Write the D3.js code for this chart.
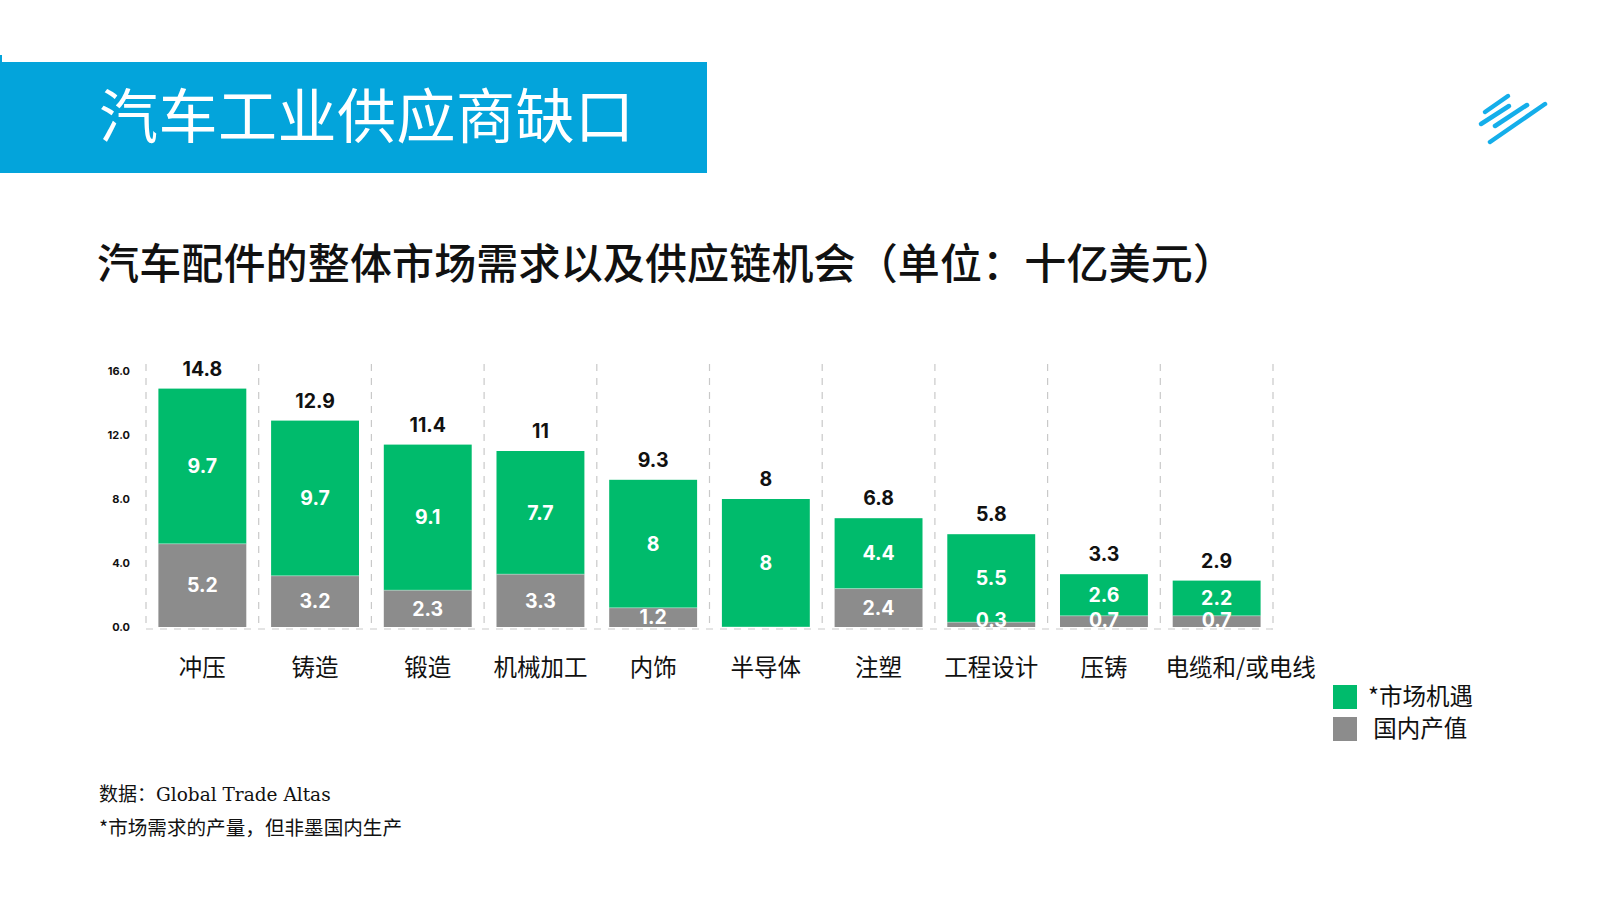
<!DOCTYPE html>
<html><head><meta charset="utf-8">
<script src="https://cdn.jsdelivr.net/npm/d3@7"></script>
<style>
html,body{margin:0;padding:0;background:#fff;}
svg{display:block;}
</style></head>
<body>
<svg id="c" width="1600" height="900"></svg>
<script>
const categories = ["冲压","铸造","锻造","机械加工","内饰","半导体","注塑","工程设计","压铸","电缆和/或电线"];
const domestic   = [5.2, 3.2, 2.3, 3.3, 1.2, 0, 2.4, 0.3, 0.7, 0.7];
const opportunity= [9.7, 9.7, 9.1, 7.7, 8, 8, 4.4, 5.5, 2.6, 2.2];
const totals     = [14.8, 12.9, 11.4, 11, 9.3, 8, 6.8, 5.8, 3.3, 2.9];
const yTicks     = [0, 4, 8, 12, 16];
const seriesNames= ["*市场机遇", " 国内产值"];
const colors = {blue:"#03A4DB", green:"#00BB6C", gray:"#8C8C8C", grid:"#C9C9C9", logo:"#14AEEA"};

const svg = d3.select("#c");
const cjk = "'Noto Sans CJK SC','Noto Sans CJK JP',sans-serif";
const num = "Inter,'Open Sans',Lato,sans-serif";

// header band
svg.append("rect").attr("x",0).attr("y",62).attr("width",707).attr("height",111).attr("fill",colors.blue);
svg.append("rect").attr("x",0).attr("y",55).attr("width",2).attr("height",8).attr("fill",colors.blue);
svg.append("text").attr("x",99).attr("y",138).attr("fill","#fff")
  .attr("font-family",cjk).attr("font-size",59).attr("font-weight",400)
  .attr("letter-spacing",0.5).text("汽车工业供应商缺口");

// logo strokes
const logo = [[1485,112,1508,96],[1481,124,1509,106],[1495,126,1527,105],[1490,142,1545,104]];
svg.append("g").selectAll("line").data(logo).join("line")
  .attr("x1",d=>d[0]).attr("y1",d=>d[1]).attr("x2",d=>d[2]).attr("y2",d=>d[3])
  .attr("stroke",colors.logo).attr("stroke-width",4.5).attr("stroke-linecap","round");

// subtitle
svg.append("text").attr("x",97).attr("y",279).attr("fill","#111")
  .attr("font-family",cjk).attr("font-size",42).attr("font-weight",500)
  .attr("letter-spacing",0.15)
  .text("汽车配件的整体市场需求以及供应链机会（单位：十亿美元）");

// scales
const x = d3.scaleBand().domain(categories).range([146,1273]).padding(0);
const bw = x.bandwidth()*0.78;
const y = d3.scaleLinear().domain([0,16]).range([627,371]);

// grid separators
const g = svg.append("g");
const seps = d3.range(categories.length+1).map(i => 146 + i*x.step());
g.selectAll("line.sep").data(seps).join("line").attr("class","sep")
  .attr("x1",d=>d).attr("x2",d=>d).attr("y1",364).attr("y2",628)
  .attr("stroke",colors.grid).attr("stroke-width",1.2).attr("stroke-dasharray","7,7");
g.append("line").attr("x1",146).attr("x2",1273).attr("y1",629).attr("y2",629)
  .attr("stroke",colors.grid).attr("stroke-width",1.2).attr("stroke-dasharray","7,7");

// y axis
const yAxis = d3.axisLeft(y).tickValues(yTicks).tickFormat(d3.format(".1f")).tickSize(0).tickPadding(0);
const ya = svg.append("g").attr("transform","translate(130,0)").call(yAxis);
ya.select(".domain").remove();
ya.selectAll("text").attr("font-family",num).attr("font-size",11).attr("font-weight",700).attr("fill","#111");

// bars
const data = categories.map((c,i)=>({c, dom:domestic[i], opp:opportunity[i], tot:totals[i]}));
const bars = svg.append("g").selectAll("g").data(data).join("g")
  .attr("transform", d=>`translate(${x(d.c)+(x.step()-bw)/2},0)`);
bars.append("rect").attr("x",0).attr("width",bw)
  .attr("y",d=>y(d.dom)).attr("height",d=>y(0)-y(d.dom)).attr("fill",colors.gray);
bars.append("rect").attr("x",0).attr("width",bw)
  .attr("y",d=>y(d.dom+d.opp)).attr("height",d=>y(d.dom)-y(d.dom+d.opp)).attr("fill",colors.green);
bars.append("line").attr("x1",0).attr("x2",bw).attr("y1",d=>y(d.dom)).attr("y2",d=>y(d.dom))
  .attr("stroke","rgba(255,255,255,0.35)").attr("stroke-width",1);

const lab = (sel)=>sel.attr("text-anchor","middle").attr("font-family",num).attr("font-weight",700);
lab(bars.append("text")).attr("x",bw/2).attr("y",d=>y(d.dom+d.opp/2)+7)
  .attr("font-size",19.5).attr("fill","#fff").text(d=>d.opp);
lab(bars.filter(d=>d.dom>0).append("text")).attr("x",bw/2)
  .attr("y",d=> d.dom<1 ? 627 : y(d.dom/2)+7)
  .attr("font-size",19.5).attr("fill","#fff").text(d=>d.dom);
lab(bars.append("text")).attr("x",bw/2).attr("y",d=>y(d.dom+d.opp)-13)
  .attr("font-size",19.5).attr("fill","#111").text(d=>d.tot);

// category labels
svg.append("g").selectAll("text").data(categories).join("text")
  .attr("x",(d,i)=> x(d)+x.step()/2 + (i===categories.length-1?24:0)).attr("y",676)
  .attr("text-anchor","middle").attr("font-family",cjk).attr("font-size",23.5).attr("fill","#111")
  .text(d=>d);

// legend
const leg = svg.append("g");
const legColors = [colors.green, colors.gray];
seriesNames.forEach((n,i)=>{
  leg.append("rect").attr("x",1333).attr("y",685+i*32).attr("width",24).attr("height",24).attr("fill",legColors[i]);
  leg.append("text").attr("x",1368).attr("y",705+i*32).attr("font-family",cjk).attr("font-size",23.5)
    .attr("fill","#111").attr("xml:space","preserve").style("white-space","pre").text(n);
});

// footer
svg.append("text").attr("x",99).attr("y",801).attr("fill","#111").attr("font-size",19)
  .call(t=>{
    t.append("tspan").attr("font-family",cjk).text("数据：");
    t.append("tspan").attr("font-family","'DejaVu Serif',serif").attr("font-size",18.5).text("Global Trade Altas");
  });
svg.append("text").attr("x",99).attr("y",835).attr("fill","#111").attr("font-size",19.6)
  .attr("font-family",cjk).text("*市场需求的产量，但非墨国内生产");
</script>
</body></html>
